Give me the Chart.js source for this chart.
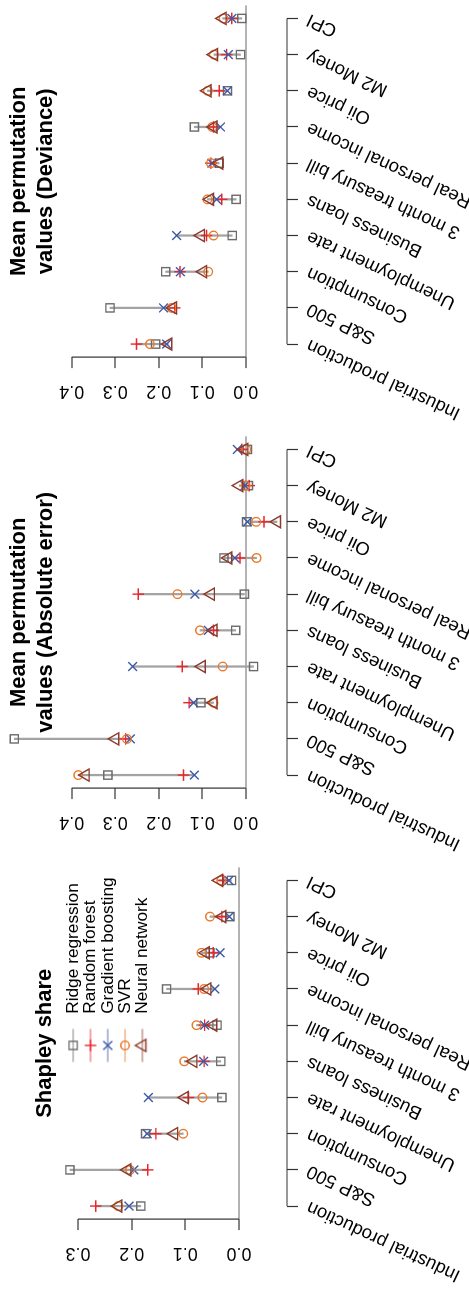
<!DOCTYPE html>
<html>
<head>
<meta charset="utf-8">
<title>Variable importance</title>
<script src="https://cdn.jsdelivr.net/npm/chart.js@4.4.1/dist/chart.umd.min.js"></script>
<style>
    html, body { margin: 0; padding: 0; background: #fff; overflow: hidden; }
    body { width: 469px; height: 1289px; position: relative; }
    /* the figure is drawn landscape, then the sheet is turned a quarter */
    #sheet {
        position: absolute; left: 0; top: 0;
        width: 1289px; height: 469px;
        transform-origin: 0 0;
        transform: translate(0, 1289px) rotate(-90deg);
    }
    #sheet canvas { position: absolute; top: 0; }
</style>
</head>
<body>
<div id="sheet">
    <canvas id="shapleyChart" width="430" height="469" style="left:0"></canvas>
    <canvas id="absChart" width="430" height="469" style="left:431px"></canvas>
    <canvas id="devChart" width="430" height="469" style="left:862px"></canvas>
</div>
<script>
// Categories & models
const categories = ['Industrial production', 'S&P 500', 'Consumption', 'Unemployment rate', 'Business loans',
    '3 month treasury bill', 'Real personal income', 'Oii price', 'M2 Money', 'CPI'];
const models = ['Ridge regression', 'Random forest', 'Gradient boosting', 'SVR', 'Neural network'];

// Shapley share
const shapleyRidge    = [0.183, 0.315, 0.174, 0.032, 0.034, 0.041, 0.135, 0.054, 0.017, 0.014];
const shapleyForest   = [0.267, 0.170, 0.155, 0.094, 0.065, 0.064, 0.076, 0.048, 0.032, 0.029];
const shapleyBoosting = [0.205, 0.196, 0.171, 0.169, 0.066, 0.064, 0.045, 0.035, 0.018, 0.019];
const shapleySVR      = [0.225, 0.203, 0.104, 0.068, 0.102, 0.079, 0.065, 0.070, 0.054, 0.033];
const shapleyNeural   = [0.225, 0.208, 0.121, 0.101, 0.085, 0.048, 0.059, 0.062, 0.031, 0.037];

// Mean permutation values (Absolute error)
const absRidge    = [0.317, 0.532, 0.103, -0.018, 0.023, 0.003, 0.050, -0.002, -0.006, -0.004];
const absForest   = [0.143, 0.276, 0.130, 0.146, 0.074, 0.247, 0.013, -0.042, -0.008, 0.009];
const absBoosting = [0.118, 0.265, 0.120, 0.260, 0.086, 0.117, 0.025, -0.004, 0.002, 0.019];
const absSVR      = [0.385, 0.273, 0.074, 0.053, 0.105, 0.157, -0.025, -0.024, 0.000, -0.001];
const absNeural   = [0.368, 0.300, 0.074, 0.101, 0.074, 0.080, 0.040, -0.072, 0.015, 0.003];

// Mean permutation values (Deviance)
const devRidge    = [0.207, 0.312, 0.184, 0.031, 0.022, 0.061, 0.118, 0.042, 0.012, 0.009];
const devForest   = [0.251, 0.163, 0.151, 0.090, 0.055, 0.080, 0.074, 0.061, 0.044, 0.032];
const devBoosting = [0.182, 0.189, 0.150, 0.159, 0.067, 0.078, 0.058, 0.042, 0.040, 0.032];
const devSVR      = [0.220, 0.170, 0.086, 0.074, 0.088, 0.080, 0.077, 0.087, 0.073, 0.051];
const devNeural   = [0.178, 0.167, 0.098, 0.103, 0.082, 0.061, 0.074, 0.088, 0.073, 0.053];

// Value axis ticks
const shapleyTicks = [0, 0.1, 0.2, 0.3];
const permTicks = [0, 0.1, 0.2, 0.3, 0.4];

Chart.defaults.font.family = "'Liberation Sans', Arial, sans-serif";
Chart.defaults.color = '#000';

// Marker look per model (same order as models)
const markerStyles = [
    { style: 'rect',     radius: 5.8, width: 1.4, color: '#6b6b6b' },
    { style: 'cross',    radius: 5.8, width: 1.4, color: '#ea252b' },
    { style: 'crossRot', radius: 6.2, width: 1.4, color: '#3d5aa9' },
    { style: 'circle',   radius: 4.3, width: 1.4, color: '#e9792b' },
    { style: 'triangle', radius: 7.0, width: 1.4, color: '#8d3a2c' }
];

// little line + marker image used as the legend symbol
function legendIcon(s) {
    const c = document.createElement('canvas');
    c.width = 36;
    c.height = 18;
    const g = c.getContext('2d');
    g.strokeStyle = s.color;
    g.lineWidth = 1.5;
    g.globalAlpha = 0.55;
    g.beginPath();
    g.moveTo(1.5, 9);
    g.lineTo(34.5, 9);
    g.stroke();
    g.globalAlpha = 1;
    g.lineWidth = s.width;
    g.fillStyle = 'rgba(0,0,0,0)';
    Chart.helpers.drawPoint(g, { pointStyle: s.style, radius: s.radius, rotation: 0, borderWidth: s.width }, 18, 9);
    return c;
}

// R style axis lines: only from first to last tick
const rAxisLines = {
    id: 'rAxisLines',
    beforeDatasetsDraw(chart) {
        const { ctx, chartArea, scales: { x, y } } = chart;
        const yt = y.ticks, xt = x.ticks;
        ctx.save();
        ctx.strokeStyle = '#333';
        ctx.lineWidth = 1.2;
        ctx.beginPath();
        ctx.moveTo(chartArea.left, y.getPixelForValue(yt[0].value));
        ctx.lineTo(chartArea.left, y.getPixelForValue(yt[yt.length - 1].value));
        ctx.moveTo(x.getPixelForValue(xt[0].value), chartArea.bottom);
        ctx.lineTo(x.getPixelForValue(xt[xt.length - 1].value), chartArea.bottom);
        ctx.stroke();
        ctx.restore();
    }
};

// legend sits in the top right corner of the plot region
const legendTopRight = {
    id: 'legendTopRight',
    afterLayout(chart) {
        const lg = chart.legend;
        if (!lg || !lg.options.display) return;
        const area = chart.chartArea;
        lg.left = area.right - lg.width;
        lg.right = area.right;
        lg.top = area.top + 2;
        lg.bottom = area.bottom;
    }
};

// like R, markers above the top limit still get drawn (into the title band)
const letMarksSpill = {
    id: 'letMarksSpill',
    afterLayout(chart) {
        chart.chartArea.top = 0;
    }
};

function createPanel(canvasId, title, series, yTicks, yMin, yMax, withLegend) {
    const twoLines = Array.isArray(title);

    const pointSets = series.map((vals, m) => ({
        type: 'scatter',
        label: models[m],
        data: vals.map((v, i) => ({ x: i, y: v })),
        pointStyle: markerStyles[m].style,
        pointRadius: markerStyles[m].radius,
        pointBorderWidth: markerStyles[m].width,
        pointBorderColor: markerStyles[m].color,
        borderColor: markerStyles[m].color,
        pointBackgroundColor: 'rgba(0,0,0,0)',
        backgroundColor: 'rgba(0,0,0,0)',
        order: models.length - m,
        clip: false
    }));

    // grey segment from the smallest to the largest model value
    const rangeSet = {
        type: 'bar',
        label: 'range',
        data: categories.map((c, i) => {
            const vals = series.map(s => s[i]);
            return { x: i, y: [Math.min(...vals), Math.max(...vals)] };
        }),
        backgroundColor: '#a3a3a3',
        borderWidth: 0,
        barThickness: 1.6,
        order: 20,
        clip: false
    };

    return new Chart(document.getElementById(canvasId), {
        type: 'scatter',
        data: { datasets: [...pointSets, rangeSet] },
        options: {
            responsive: false,
            animation: false,
            events: [],
            layout: { padding: { left: 0, right: 6.3, top: 0, bottom: 0 } },
            scales: {
                x: {
                    type: 'linear',
                    min: -0.36,
                    max: 9.36,
                    offset: false,
                    afterBuildTicks: scale => { scale.ticks = categories.map((c, i) => ({ value: i })); },
                    afterFit: scale => { scale.height = 182; scale.paddingLeft = 0; scale.paddingRight = 0; },
                    border: { display: false },
                    grid: { offset: false, drawOnChartArea: false, tickColor: '#333', tickWidth: 1.2, tickLength: 11 },
                    ticks: {
                        callback: v => categories[v],
                        autoSkip: false,
                        minRotation: 65,
                        maxRotation: 65,
                        font: { size: 18.5 },
                        color: '#000',
                        padding: 5.3
                    }
                },
                y: {
                    type: 'linear',
                    min: yMin,
                    max: yMax,
                    afterBuildTicks: scale => { scale.ticks = yTicks.map(v => ({ value: v })); },
                    afterFit: scale => { scale.width = 69.9; scale.paddingTop = 0; scale.paddingBottom = 0; },
                    border: { display: false },
                    grid: {
                        color: c => (c.tick && c.tick.value === 0) ? '#b3b3b3' : 'rgba(0,0,0,0)',
                        lineWidth: c => (c.tick && c.tick.value === 0) ? 2 : 0,
                        tickColor: '#333',
                        tickWidth: 1.2,
                        tickLength: 11
                    },
                    ticks: {
                        callback: v => v.toFixed(1),
                        autoSkip: false,
                        minRotation: 90,
                        maxRotation: 90,
                        crossAlign: 'center',
                        font: { size: 18 },
                        color: '#000',
                        padding: 10.4
                    }
                }
            },
            plugins: {
                title: {
                    display: true,
                    text: title,
                    fullSize: false,
                    color: '#000',
                    font: { size: 22, weight: 'bold', lineHeight: '27px' },
                    padding: twoLines ? { top: 5, bottom: 3.5 } : { top: 31.5, bottom: 4 }
                },
                legend: {
                    display: withLegend,
                    position: 'chartArea',
                    align: 'start',
                    labels: {
                        usePointStyle: true,
                        pointStyleWidth: 46,
                        padding: 0,
                        color: '#000',
                        font: { size: 17.3 },
                        generateLabels: () => models.map((name, m) => ({
                            text: name,
                            datasetIndex: m,
                            pointStyle: legendIcon(markerStyles[m]),
                            fillStyle: 'rgba(0,0,0,0)',
                            strokeStyle: markerStyles[m].color,
                            lineWidth: 0,
                            hidden: false,
                            fontColor: '#000'
                        }))
                    }
                },
                tooltip: { enabled: false }
            }
        },
        plugins: [rAxisLines, legendTopRight, letMarksSpill]
    });
}

createPanel('shapleyChart', 'Shapley share',
    [shapleyRidge, shapleyForest, shapleyBoosting, shapleySVR, shapleyNeural],
    shapleyTicks, -0.0894, 0.3289, true);

createPanel('absChart', ['Mean permutation', 'values (Absolute error)'],
    [absRidge, absForest, absBoosting, absSVR, absNeural],
    permTicks, -0.0949, 0.4212, false);

createPanel('devChart', ['Mean permutation', 'values (Deviance)'],
    [devRidge, devForest, devBoosting, devSVR, devNeural],
    permTicks, -0.0949, 0.4212, false);
</script>
</body>
</html>
